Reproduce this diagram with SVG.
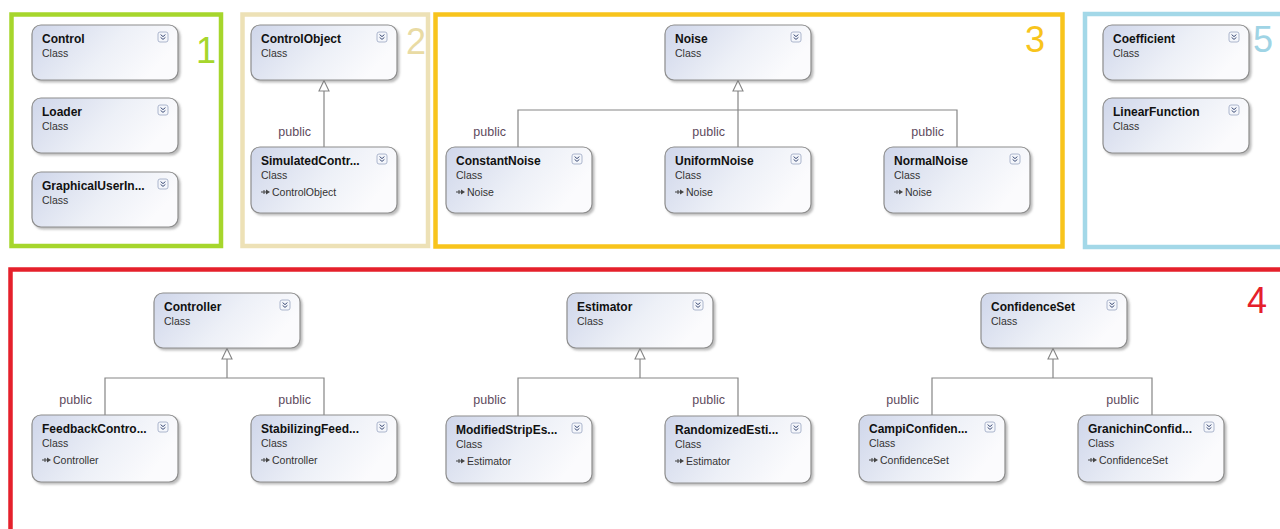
<svg xmlns="http://www.w3.org/2000/svg" xmlns:xlink="http://www.w3.org/1999/xlink" width="1280" height="529" viewBox="0 0 1280 529">
<style>
.box{fill:url(#bg);stroke:#8e8e8e;stroke-width:1.2;filter:url(#sh)}
.t{font-family:"Liberation Sans",Arial,sans-serif;font-weight:bold;font-size:12px;fill:#111}
.s{font-family:"Liberation Sans",Arial,sans-serif;font-size:10.5px;fill:#333}
.lbl{font-family:"Liberation Sans",Arial,sans-serif;font-size:12.5px;fill:#5e4a5c;text-anchor:end}
.num{font-family:"Liberation Sans",Arial,sans-serif;font-size:36px}
.frame{fill:none;stroke-width:4.5}
.con line,.con polyline{stroke:#858585;stroke-width:1.2;fill:none}
.con polygon{fill:#fff;stroke:#858585;stroke-width:1.1}
</style>
<defs>
<linearGradient id="bg" x1="0" y1="0" x2="1" y2="0.35">
<stop offset="0" stop-color="#cfd6ea"/>
<stop offset="0.6" stop-color="#edf0f7"/>
<stop offset="1" stop-color="#fbfbfd"/>
</linearGradient>
<filter id="sh" x="-10%" y="-10%" width="125%" height="135%">
<feDropShadow dx="2" dy="2" stdDeviation="1.2" flood-color="#7a7a7a" flood-opacity="0.5"/>
</filter>
<g id="exp">
<rect width="10" height="10" rx="2" fill="#f4f6fb" stroke="#9aa6c2" stroke-width="0.8"/>
<path d="M2.6 2.6 L5 4.6 L7.4 2.6 M2.6 5.4 L5 7.4 L7.4 5.4" fill="none" stroke="#3e4e78" stroke-width="1"/>
</g>
<g id="inh">
<line x1="0" y1="0" x2="6" y2="0" stroke="#444" stroke-width="1"/>
<line x1="3" y1="-2" x2="3" y2="2" stroke="#444" stroke-width="1"/>
<path d="M5 -2.6 L9 0 L5 2.6 Z" fill="#444"/>
</g>
</defs>
<rect width="1280" height="529" fill="#fff"/>

<g id="frames">
<rect class="frame" x="11.5" y="14.5" width="209.5" height="231.5" stroke="#a6d62c"/>
<rect class="frame" x="242.5" y="14.5" width="185.5" height="231.5" stroke="#ede1b6"/>
<rect class="frame" x="435.5" y="14.5" width="627" height="232" stroke="#f8c41c"/>
<rect class="frame" x="1085" y="14" width="220" height="233" stroke="#a3d8e8"/>
<rect class="frame" x="10.5" y="269.5" width="1300" height="300" stroke="#e5202b"/>
<text class="num" x="196" y="63" fill="#a6d62c">1</text>
<text class="num" x="406" y="54" fill="#e9dba4">2</text>
<text class="num" x="1025" y="52" fill="#f8c41c">3</text>
<text class="num" x="1253" y="52" fill="#9fd4e5">5</text>
<text class="num" x="1247" y="313" fill="#e5202b">4</text>
</g>

<g id="connectors" class="con">
<polygon points="324,80.5 319,91 329,91"/>
<line x1="324" y1="91" x2="324" y2="147"/>

<polygon points="738,80.5 733,91 743,91"/>
<line x1="738" y1="91" x2="738" y2="147"/>
<polyline points="518,147 518,110 957,110 957,147"/>

<polygon points="227,348.5 222,359 232,359"/>
<line x1="227" y1="359" x2="227" y2="378"/>
<polyline points="105,415 105,378 324,378 324,415"/>

<polygon points="640,348.5 635,359 645,359"/>
<line x1="640" y1="359" x2="640" y2="378"/>
<polyline points="518,416 518,378 738,378 738,416"/>

<polygon points="1053,348.5 1048,359 1058,359"/>
<line x1="1053" y1="359" x2="1053" y2="378"/>
<polyline points="932,415 932,378 1152,378 1152,415"/>

<text class="lbl" x="311" y="136">public</text>
<text class="lbl" x="506" y="136">public</text>
<text class="lbl" x="725" y="136">public</text>
<text class="lbl" x="944" y="136">public</text>
<text class="lbl" x="92" y="404">public</text>
<text class="lbl" x="311" y="404">public</text>
<text class="lbl" x="506" y="404">public</text>
<text class="lbl" x="725" y="404">public</text>
<text class="lbl" x="919" y="404">public</text>
<text class="lbl" x="1139" y="404">public</text>
</g>

<g id="Control" transform="translate(32,25)">
<rect class="box" width="146" height="55" rx="9"/>
<text class="t" x="10" y="17.5">Control</text>
<text class="s" x="10" y="32">Class</text>
<use xlink:href="#exp" x="126" y="7"/>
</g>
<g id="Loader" transform="translate(32,98)">
<rect class="box" width="146" height="55" rx="9"/>
<text class="t" x="10" y="17.5">Loader</text>
<text class="s" x="10" y="32">Class</text>
<use xlink:href="#exp" x="126" y="7"/>
</g>
<g id="GraphicalUserInterface" transform="translate(32,172)">
<rect class="box" width="146" height="55" rx="9"/>
<text class="t" x="10" y="17.5">GraphicalUserIn...</text>
<text class="s" x="10" y="32">Class</text>
<use xlink:href="#exp" x="126" y="7"/>
</g>

<g id="ControlObject" transform="translate(251,25)">
<rect class="box" width="146" height="55" rx="9"/>
<text class="t" x="10" y="17.5">ControlObject</text>
<text class="s" x="10" y="32">Class</text>
<use xlink:href="#exp" x="126" y="7"/>
</g>
<g id="SimulatedControlObject" transform="translate(251,147)">
<rect class="box" width="146" height="66" rx="9"/>
<text class="t" x="10" y="17.5">SimulatedContr...</text>
<text class="s" x="10" y="32">Class</text>
<use xlink:href="#inh" x="10" y="45"/>
<text class="s" x="21" y="48.5">ControlObject</text>
<use xlink:href="#exp" x="126" y="7"/>
</g>

<g id="Noise" transform="translate(665,25)">
<rect class="box" width="146" height="55" rx="9"/>
<text class="t" x="10" y="17.5">Noise</text>
<text class="s" x="10" y="32">Class</text>
<use xlink:href="#exp" x="126" y="7"/>
</g>
<g id="ConstantNoise" transform="translate(446,147)">
<rect class="box" width="146" height="66" rx="9"/>
<text class="t" x="10" y="17.5">ConstantNoise</text>
<text class="s" x="10" y="32">Class</text>
<use xlink:href="#inh" x="10" y="45"/>
<text class="s" x="21" y="48.5">Noise</text>
<use xlink:href="#exp" x="126" y="7"/>
</g>
<g id="UniformNoise" transform="translate(665,147)">
<rect class="box" width="146" height="66" rx="9"/>
<text class="t" x="10" y="17.5">UniformNoise</text>
<text class="s" x="10" y="32">Class</text>
<use xlink:href="#inh" x="10" y="45"/>
<text class="s" x="21" y="48.5">Noise</text>
<use xlink:href="#exp" x="126" y="7"/>
</g>
<g id="NormalNoise" transform="translate(884,147)">
<rect class="box" width="146" height="66" rx="9"/>
<text class="t" x="10" y="17.5">NormalNoise</text>
<text class="s" x="10" y="32">Class</text>
<use xlink:href="#inh" x="10" y="45"/>
<text class="s" x="21" y="48.5">Noise</text>
<use xlink:href="#exp" x="126" y="7"/>
</g>

<g id="Coefficient" transform="translate(1103,25)">
<rect class="box" width="146" height="55" rx="9"/>
<text class="t" x="10" y="17.5">Coefficient</text>
<text class="s" x="10" y="32">Class</text>
<use xlink:href="#exp" x="126" y="7"/>
</g>
<g id="LinearFunction" transform="translate(1103,98)">
<rect class="box" width="146" height="55" rx="9"/>
<text class="t" x="10" y="17.5">LinearFunction</text>
<text class="s" x="10" y="32">Class</text>
<use xlink:href="#exp" x="126" y="7"/>
</g>

<g id="Controller" transform="translate(154,293)">
<rect class="box" width="146" height="55" rx="9"/>
<text class="t" x="10" y="17.5">Controller</text>
<text class="s" x="10" y="32">Class</text>
<use xlink:href="#exp" x="126" y="7"/>
</g>
<g id="FeedbackController" transform="translate(32,415)">
<rect class="box" width="146" height="67" rx="9"/>
<text class="t" x="10" y="17.5">FeedbackContro...</text>
<text class="s" x="10" y="32">Class</text>
<use xlink:href="#inh" x="10" y="45"/>
<text class="s" x="21" y="48.5">Controller</text>
<use xlink:href="#exp" x="126" y="7"/>
</g>
<g id="StabilizingFeedbackController" transform="translate(251,415)">
<rect class="box" width="146" height="67" rx="9"/>
<text class="t" x="10" y="17.5">StabilizingFeed...</text>
<text class="s" x="10" y="32">Class</text>
<use xlink:href="#inh" x="10" y="45"/>
<text class="s" x="21" y="48.5">Controller</text>
<use xlink:href="#exp" x="126" y="7"/>
</g>

<g id="Estimator" transform="translate(567,293)">
<rect class="box" width="146" height="55" rx="9"/>
<text class="t" x="10" y="17.5">Estimator</text>
<text class="s" x="10" y="32">Class</text>
<use xlink:href="#exp" x="126" y="7"/>
</g>
<g id="ModifiedStripEstimator" transform="translate(446,416)">
<rect class="box" width="146" height="67" rx="9"/>
<text class="t" x="10" y="17.5">ModifiedStripEs...</text>
<text class="s" x="10" y="32">Class</text>
<use xlink:href="#inh" x="10" y="45"/>
<text class="s" x="21" y="48.5">Estimator</text>
<use xlink:href="#exp" x="126" y="7"/>
</g>
<g id="RandomizedEstimator" transform="translate(665,416)">
<rect class="box" width="146" height="67" rx="9"/>
<text class="t" x="10" y="17.5">RandomizedEsti...</text>
<text class="s" x="10" y="32">Class</text>
<use xlink:href="#inh" x="10" y="45"/>
<text class="s" x="21" y="48.5">Estimator</text>
<use xlink:href="#exp" x="126" y="7"/>
</g>

<g id="ConfidenceSet" transform="translate(981,293)">
<rect class="box" width="146" height="55" rx="9"/>
<text class="t" x="10" y="17.5">ConfidenceSet</text>
<text class="s" x="10" y="32">Class</text>
<use xlink:href="#exp" x="126" y="7"/>
</g>
<g id="CampiConfidenceSet" transform="translate(859,415)">
<rect class="box" width="146" height="67" rx="9"/>
<text class="t" x="10" y="17.5">CampiConfiden...</text>
<text class="s" x="10" y="32">Class</text>
<use xlink:href="#inh" x="10" y="45"/>
<text class="s" x="21" y="48.5">ConfidenceSet</text>
<use xlink:href="#exp" x="126" y="7"/>
</g>
<g id="GranichinConfidenceSet" transform="translate(1078,415)">
<rect class="box" width="146" height="67" rx="9"/>
<text class="t" x="10" y="17.5">GranichinConfid...</text>
<text class="s" x="10" y="32">Class</text>
<use xlink:href="#inh" x="10" y="45"/>
<text class="s" x="21" y="48.5">ConfidenceSet</text>
<use xlink:href="#exp" x="126" y="7"/>
</g>
</svg>
